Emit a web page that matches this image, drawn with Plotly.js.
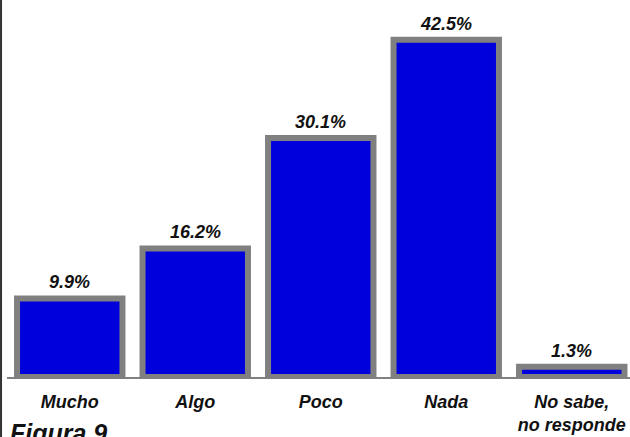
<!DOCTYPE html>
<html>
<head>
<meta charset="utf-8">
<script src="https://cdn.plot.ly/plotly-3.0.1.min.js"></script>
<style>html,body{margin:0;padding:0;background:#fff;}#chart{width:630px;height:437px;}</style>
</head>
<body>
<div id="chart"></div>
<script>
var categories = ["Mucho", "Algo", "Poco", "Nada", "No sabe,<br>no responde"];
var values = [9.9, 16.2, 30.1, 42.5, 1.3];
var figureLabel = "Figura 9";

var fontFam = "Liberation Sans, Arial, sans-serif";
var labelFont = {family: fontFam, size: 18, color: "#111", weight: "bold", style: "italic"};
var trace = {
  type: "bar",
  x: [0, 1, 2, 3, 4],
  y: values,
  width: 0.84,
  marker: {color: "#0000dd", line: {color: "#808080", width: 6}},
  cliponaxis: false,
  hoverinfo: "none"
};
var annotations = values.map(function(v, i){
  return {
    x: i, y: v, xref: "x", yref: "y",
    text: v.toFixed(1) + "%",
    showarrow: false, xanchor: "center", yanchor: "bottom",
    yshift: 4,
    font: labelFont
  };
});
annotations.push({
  text: figureLabel, xref: "paper", yref: "paper",
  x: 0.0016, y: -0.107, xanchor: "left", yanchor: "top",
  showarrow: false,
  font: {family: fontFam, size: 25, color: "#111", weight: "bold", style: "italic"}
});
var layout = {
  width: 630, height: 437,
  margin: {l: 7, r: 0, t: 0, b: 60},
  paper_bgcolor: "#fff", plot_bgcolor: "#fff",
  showlegend: false,
  xaxis: {
    range: [-0.5, 4.464],
    tickmode: "array", tickvals: [0, 1, 2, 3, 4], ticktext: categories,
    showgrid: false, zeroline: false,
    showline: true, linecolor: "#808080", linewidth: 2,
    ticks: "", ticklabelstandoff: 7,
    tickfont: labelFont
  },
  yaxis: {range: [0, 47.5], visible: false, showgrid: false, zeroline: false},
  shapes: [{
    type: "line", xref: "paper", yref: "paper",
    x0: -0.0096, x1: -0.0096, y0: -0.2, y1: 1.05,
    line: {color: "#333", width: 2}
  }],
  annotations: annotations
};
Plotly.newPlot("chart", [trace], layout, {displayModeBar: false, staticPlot: true});
</script>
</body>
</html>
